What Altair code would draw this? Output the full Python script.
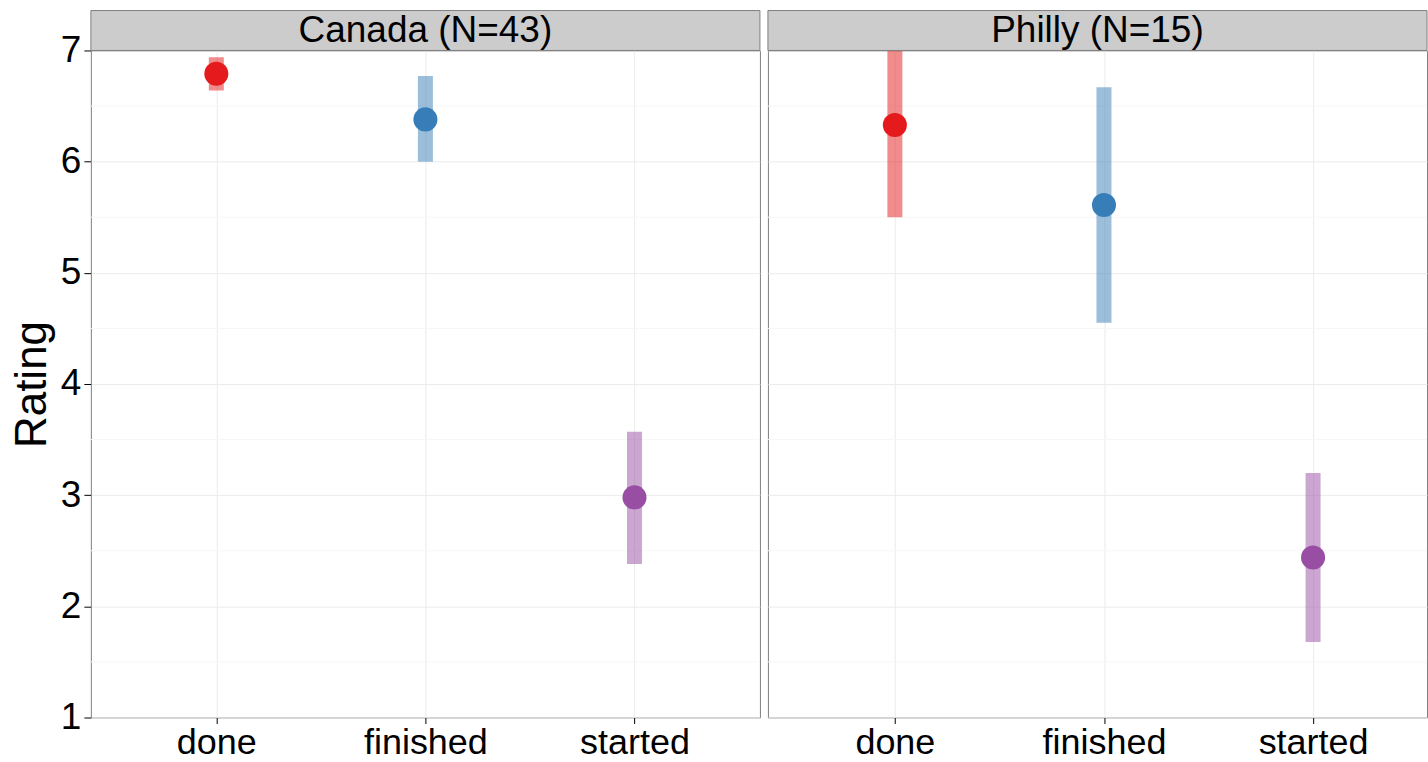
import altair as alt
import pandas as pd

# Ratings by stage, mean with interval, per site
stages = ["done", "finished", "started"]
stage_colors = ["#E41A1C", "#377EB8", "#984EA3"]

canada_title = "Canada (N=43)"
canada_mean = [6.79, 6.38, 2.98]
canada_low = [6.64, 6.00, 2.38]
canada_high = [6.94, 6.77, 3.57]

philly_title = "Philly (N=15)"
philly_mean = [6.33, 5.61, 2.44]
philly_low = [5.50, 4.55, 1.68]
philly_high = [7.17, 6.67, 3.20]

y_ticks = [1, 2, 3, 4, 5, 6, 7]
y_minor = [1.5, 2.5, 3.5, 4.5, 5.5, 6.5]

FONT = "Liberation Sans"
PANEL_H = 668
LEFT_W = 670
RIGHT_W = 660
STRIP_H = 40


def panel(title, means, lows, highs, width, show_y, x_scale):
    df = pd.DataFrame({"stage": stages, "mean": means, "low": lows, "high": highs})
    y_scale = alt.Scale(domain=[1, 7], nice=False, zero=False)
    if show_y:
        y_axis = alt.Axis(values=y_ticks, format="d", title="Rating", titleFontSize=44,
                          titleFontWeight="normal", titleColor="black", titlePadding=6,
                          labelFontSize=37, labelColor="black", labelPadding=3,
                          tickColor="black", tickSize=7, domain=False,
                          grid=True, gridColor="#EBEBEB")
    else:
        y_axis = alt.Axis(values=y_ticks, title=None, labels=False, ticks=False,
                          domain=False, grid=True, gridColor="#EBEBEB")
    x_axis = alt.Axis(title=None, labelFontSize=36, labelColor="black", labelPadding=2,
                      labelAngle=0, tickColor="black", tickSize=6, domain=False,
                      grid=True, gridColor="#EBEBEB")
    x_enc = alt.X("stage:N", sort=stages, scale=x_scale, axis=x_axis)
    color = alt.Color("stage:N", scale=alt.Scale(domain=stages, range=stage_colors), legend=None)

    minor = alt.Chart(pd.DataFrame({"v": y_minor})).mark_rule(
        color="#F7F7F7", strokeWidth=1
    ).encode(y=alt.Y("v:Q", scale=y_scale, axis=y_axis))

    bars = alt.Chart(df).mark_rule(strokeWidth=15, opacity=0.5, strokeCap="butt", clip=True).encode(
        x=x_enc,
        y=alt.Y("low:Q", scale=y_scale),
        y2="high:Q",
        color=color,
    )
    dots = alt.Chart(df).mark_circle(size=580, opacity=1).encode(
        x=x_enc,
        y=alt.Y("mean:Q", scale=y_scale),
        color=color,
    )

    strip_df = pd.DataFrame({"label": [title]})
    strip = alt.Chart(strip_df).mark_rect(fill="#CCCCCC", stroke="#7F7F7F", strokeWidth=1).encode(
        x=alt.value(0), x2=alt.value(width), y=alt.value(-STRIP_H), y2=alt.value(0)
    )
    strip_text = alt.Chart(strip_df).mark_text(
        font=FONT, fontSize=37, color="black", baseline="middle", align="center"
    ).encode(x=alt.value(width / 2), y=alt.value(-STRIP_H / 2 + 1), text="label:N")

    return alt.layer(minor, bars, dots, strip, strip_text).properties(width=width, height=PANEL_H)


left = panel(canada_title, canada_mean, canada_low, canada_high, LEFT_W, True,
             alt.Scale(type="point", domain=stages, padding=0.6))
right = panel(philly_title, philly_mean, philly_low, philly_high, RIGHT_W, False,
              alt.Scale(type="point", domain=stages, padding=0.576, align=0.527))

chart = alt.hconcat(left, right, spacing=6).resolve_scale(
    x="independent", y="independent"
).configure(
    font=FONT,
    view=alt.ViewConfig(stroke="#7F7F7F", strokeWidth=1),
).properties(
    padding={"left": 9, "top": 9, "right": 0, "bottom": 0},
    background="white",
)

chart.save("out.html", embed_options={"renderer": "svg", "actions": False})
